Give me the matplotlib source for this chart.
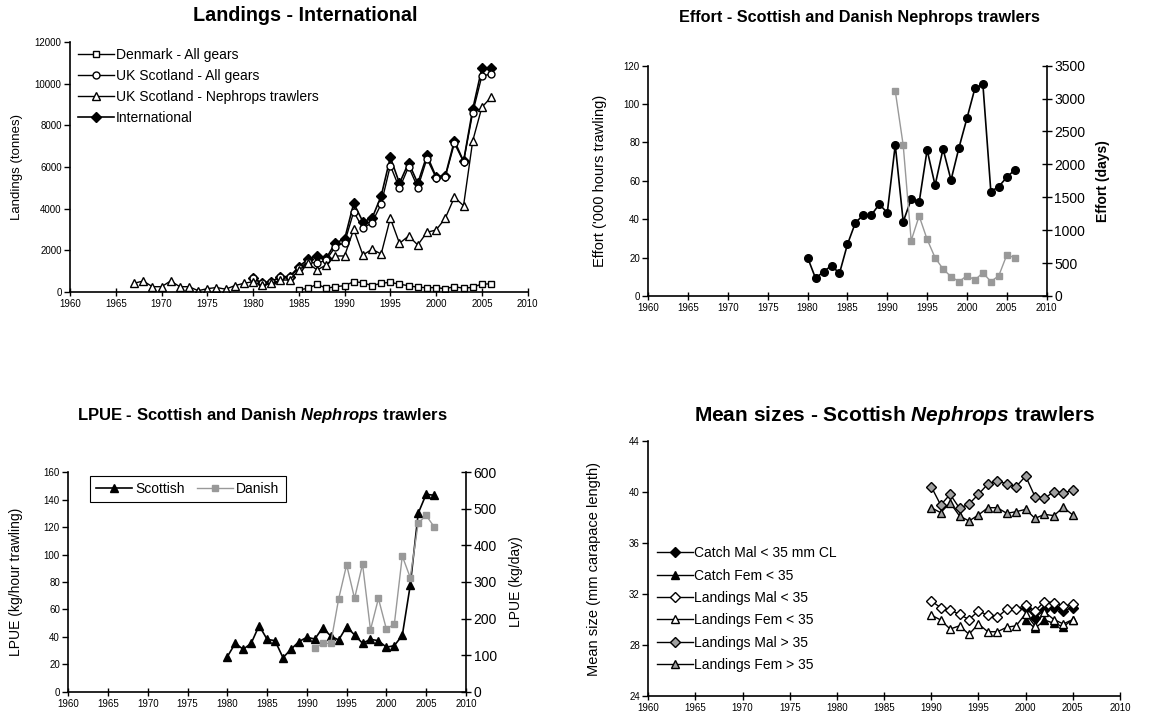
# -*- coding: utf-8 -*-
# Nephrops fishery summary plots (4 panels, Excel style)

import numpy as np
from matplotlib import pyplot as plt

plt.rcParams['font.family'] = ['Liberation Sans', 'DejaVu Sans']
plt.rcParams['mathtext.fontset'] = 'custom'
plt.rcParams['mathtext.rm'] = 'Liberation Sans'
plt.rcParams['mathtext.it'] = 'Liberation Sans:italic'
plt.rcParams['mathtext.bf'] = 'Liberation Sans:bold'
plt.rcParams['mathtext.bfit'] = 'Liberation Sans:italic:bold'

GREY = '#999999'

# --- Landings (tonnes) ---
years_intl = list(range(1980, 2007))
land_intl = [645, 404, 481, 722, 722, 1203, 1559, 1718, 1607, 2358, 2521, 4253,
             3368, 3532, 4605, 6467, 5216, 6207, 5216, 6563, 5533, 5567, 7266,
             6274, 8776, 10748, 10748]
land_scot_all = [645, 404, 481, 722, 722, 1120, 1440, 1366, 1525, 2165, 2358,
                 3849, 3050, 3320, 4220, 6066, 4975, 6014, 5004, 6400, 5485,
                 5520, 7140, 6255, 8612, 10378, 10474]
years_den = list(range(1985, 2007))
land_den = [82, 164, 356, 164, 240, 289, 481, 433, 289, 404, 452, 356, 289,
            212, 195, 195, 144, 240, 164, 212, 370, 370]
years_neph = list(range(1967, 2007))
land_scot_neph = [404, 515, 240, 240, 515, 240, 240, 48, 144, 200, 120, 289,
                  404, 480, 300, 400, 560, 560, 1044, 1366, 1044, 1285, 1718,
                  1718, 3000, 1766, 2040, 1814, 3532, 2329, 2680, 2247, 2858,
                  2968, 3532, 4542, 4138, 7251, 8872, 9353]

# --- Effort ---
years_scot = list(range(1980, 2007))
effort_scot = [20, 9.2, 12.7, 15.8, 11.8, 26.9, 38.2, 42.2, 42.2, 47.8, 43.4,
               78.7, 38.7, 50.4, 48.8, 76.1, 57.7, 76.6, 60.4, 77.3, 92.6,
               108.2, 110.3, 54.4, 57.0, 61.9, 65.7]
years_dan = list(range(1991, 2007))
effort_dan = [3115, 2290, 841, 1216, 861, 582, 410, 294, 218, 309, 243, 354,
              218, 309, 623, 582]

# --- LPUE ---
lpue_scot = [25.5, 35.3, 30.9, 35.3, 48.2, 38.2, 37.2, 24.8, 30.9, 36.5, 39.7,
             38.4, 46.7, 40.6, 37.7, 47.4, 41.4, 35.3, 38.2, 37.2, 32.4, 33.6,
             41.1, 77.6, 130.1, 144.0, 143.2]
lpue_dan = [119, 132, 132, 254, 347, 255, 349, 169, 255, 171, 185, 371, 312,
            461, 482, 451]

# --- Mean sizes (mm CL) ---
years_size = list(range(1990, 2006))
years_catch = list(range(2000, 2006))
catch_mal_lt35 = [30.93, 30.14, 30.75, 30.88, 30.69, 30.93]
catch_fem_lt35 = [30.0, 29.3, 29.96, 29.7, 29.44, 30.0]
land_mal_lt35 = [31.45, 30.93, 30.75, 30.4, 30.0, 30.67, 30.33, 30.17, 30.82,
                 30.82, 31.14, 30.67, 31.4, 31.32, 31.06, 31.19]
land_fem_lt35 = [30.35, 29.96, 29.25, 29.51, 28.84, 29.65, 29.04, 29.04, 29.39,
                 29.51, 30.46, 29.49, 30.6, 30.0, 29.65, 30.0]
land_mal_gt35 = [40.42, 38.98, 39.82, 38.72, 39.06, 39.82, 40.63, 40.89, 40.63,
                 40.42, 41.25, 39.63, 39.5, 40.03, 39.9, 40.16]
land_fem_gt35 = [38.77, 38.38, 39.16, 38.12, 37.73, 38.2, 38.77, 38.77, 38.33,
                 38.46, 38.64, 37.93, 38.25, 38.15, 38.8, 38.2]


def _excel_axis(ax, ymin, ymax, ystep):
    """Left/bottom spines only, ticks like an Excel chart."""
    ax.set_xlim(1960, 2010)
    ax.set_xticks(np.arange(1960, 2011, 5))
    ax.set_ylim(ymin, ymax)
    ax.set_yticks(np.arange(ymin, ymax + ystep / 2, ystep))
    ax.spines['top'].set_visible(False)
    ax.spines['right'].set_visible(False)
    for s in ax.spines.values():
        s.set_linewidth(1.2)
    ax.tick_params(axis='x', direction='inout', length=6, width=1,
                   labelsize=7, pad=2)
    ax.tick_params(axis='y', direction='out', length=4, width=1,
                   labelsize=7, pad=2)


def _right_axis(ax, ymax, ystep):
    """Secondary y axis on the right, with larger tick labels."""
    ax2 = ax.twinx()
    ax2.set_ylim(0, ymax)
    ax2.set_yticks(np.arange(0, ymax + 1, ystep))
    for side in ['top', 'left', 'bottom']:
        ax2.spines[side].set_visible(False)
    ax2.spines['right'].set_linewidth(1.2)
    ax2.tick_params(axis='y', direction='inout', length=7, width=1,
                    labelsize=10, pad=2)
    return ax2


fig = plt.figure(figsize=(11.49, 7.17), dpi=100)

# ---------------- Landings ----------------
ax1 = fig.add_axes([0.0609, 0.5932, 0.3983, 0.3478])
ax1.plot(years_den, land_den, '-s', color='k', mfc='white', mec='k',
         ms=5, lw=1, label='Denmark - All gears')
ax1.plot(years_intl, land_scot_all, '-o', color='k', mfc='white', mec='k',
         ms=5, lw=1, label='UK Scotland - All gears')
ax1.plot(years_neph, land_scot_neph, '-^', color='k', mfc='white', mec='k',
         ms=6, lw=1, label='UK Scotland - Nephrops trawlers')
ax1.plot(years_intl, land_intl, '-D', color='k', mfc='k', mec='k',
         ms=4.8, lw=1.2, label='International', zorder=1.9)
_excel_axis(ax1, 0, 12000, 2000)
ax1.set_ylabel('Landings (tonnes)', fontsize=9.5)
ax1.yaxis.set_label_coords(-0.103, 0.5)
ax1.legend(loc='upper left', bbox_to_anchor=(0.0, 1.012), frameon=False,
           fontsize=10, handlelength=2.6, labelspacing=0.52,
           handletextpad=0.1, borderaxespad=0.2)
fig.text(0.266, 0.978, 'Landings - International', ha='center', va='center',
         fontsize=14.2, fontweight='bold')

# ---------------- Effort ----------------
ax2 = fig.add_axes([0.5642, 0.5872, 0.3467, 0.3212])
ax2.plot(years_scot, effort_scot, '-o', color='k', ms=5.5, lw=1.2, zorder=3)
_excel_axis(ax2, 0, 120, 20)
ax2.set_ylabel("Effort ('000 hours trawling)", fontsize=10.5)
ax2.yaxis.set_label_coords(-0.104, 0.5)
ax2r = _right_axis(ax2, 3500, 500)
ax2r.plot(years_dan, effort_dan, '-s', color=GREY, ms=5, lw=1)
ax2r.set_ylabel('Effort (days)', fontsize=10, fontweight='bold')
ax2r.yaxis.set_label_coords(1.124, 0.5)
fig.text(0.7476, 0.975, 'Effort - Scottish and Danish Nephrops trawlers',
         ha='center', va='center', fontsize=11.7, fontweight='bold')

# ---------------- LPUE ----------------
ax3 = fig.add_axes([0.0594, 0.0353, 0.3461, 0.306])
l_scot, = ax3.plot(years_scot, lpue_scot, '-^', color='k', ms=6, lw=1.2,
                   label='Scottish')
_excel_axis(ax3, 0, 160, 20)
ax3.set_ylabel('LPUE (kg/hour trawling)', fontsize=10)
ax3.yaxis.set_label_coords(-0.114, 0.5)
ax3r = _right_axis(ax3, 600, 100)
l_dan, = ax3r.plot(years_dan, lpue_dan, '-s', color=GREY, ms=5, lw=1,
                   label='Danish')
ax3r.set_ylabel('LPUE (kg/day)', fontsize=10)
ax3r.yaxis.set_label_coords(1.108, 0.5)
leg = ax3r.legend([l_scot, l_dan], ['Scottish', 'Danish'], ncol=2,
                  loc='upper left', bbox_to_anchor=(0.055, 0.985),
                  fontsize=10, handlelength=2.6, handletextpad=0.2,
                  columnspacing=0.9, fancybox=False, framealpha=1,
                  edgecolor='k', borderpad=0.45, borderaxespad=0)
leg.get_frame().set_linewidth(0.8)
fig.text(0.228, 0.421,
         r'LPUE - Scottish and Danish $\mathbfit{Nephrops}$ trawlers',
         ha='center', va='center', fontsize=12, fontweight='bold')

# ---------------- Mean sizes ----------------
ax4 = fig.add_axes([0.5642, 0.0293, 0.4105, 0.3556])
ax4.plot(years_catch, catch_mal_lt35, '-D', color='k', mfc='k', mec='k',
         ms=5, lw=1, label='Catch Mal < 35 mm CL')
ax4.plot(years_catch, catch_fem_lt35, '-^', color='k', mfc='k', mec='k',
         ms=6, lw=1, label='Catch Fem < 35')
ax4.plot(years_size, land_mal_lt35, '-D', color='k', mfc='white', mec='k',
         ms=5, lw=1, label='Landings Mal < 35')
ax4.plot(years_size, land_fem_lt35, '-^', color='k', mfc='white', mec='k',
         ms=6, lw=1, label='Landings Fem < 35')
ax4.plot(years_size, land_mal_gt35, '-D', color='k', mfc='#a0a0a0', mec='k',
         ms=5, lw=1, label='Landings Mal > 35')
ax4.plot(years_size, land_fem_gt35, '-^', color='k', mfc='#a0a0a0', mec='k',
         ms=6, lw=1, label='Landings Fem > 35')
_excel_axis(ax4, 24, 44, 4)
ax4.set_ylabel('Mean size (mm carapace length)', fontsize=10.5)
ax4.yaxis.set_label_coords(-0.100, 0.5)
ax4.legend(loc='upper left', bbox_to_anchor=(0.0, 0.62), frameon=False,
           fontsize=10, handlelength=2.6, labelspacing=0.6,
           handletextpad=0.1, borderaxespad=0.2)
fig.text(0.779, 0.421,
         r'Mean sizes - Scottish $\mathbfit{Nephrops}$ trawlers',
         ha='center', va='center', fontsize=15, fontweight='bold')

fig.savefig('out.png', dpi=100)
